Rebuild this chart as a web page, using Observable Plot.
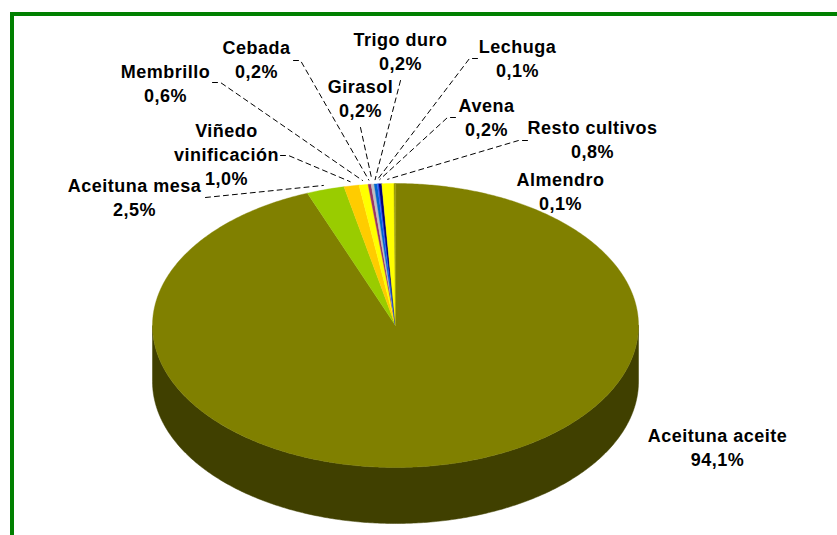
<!DOCTYPE html>
<html><head><meta charset="utf-8">
<script src="https://cdn.jsdelivr.net/npm/d3@7"></script>
<script src="https://cdn.jsdelivr.net/npm/@observablehq/plot@0.6"></script>
<style>
html,body{margin:0;padding:0;background:#fff;}
#wrap{position:relative;width:837px;height:535px;overflow:hidden;}
#frame{position:absolute;left:10px;top:12px;width:900px;height:600px;border-top:4px solid #008000;border-left:4px solid #008000;box-sizing:border-box;pointer-events:none;}
#chart svg{display:block;}
</style></head><body>
<div id="wrap"><div id="chart"></div><div id="frame"></div></div>
<script>
// ---- data ----
const categories = ["Aceituna aceite","Aceituna mesa","Viñedo vinificación","Membrillo","Cebada","Girasol","Trigo duro","Lechuga","Avena","Resto cultivos","Almendro"];
const values = [94.1, 2.5, 1.0, 0.6, 0.2, 0.2, 0.2, 0.1, 0.2, 0.8, 0.1];
const colors = ["#808000","#99CC00","#FFCC00","#FFFF00","#993366","#C0C0C0","#0066CC","#3366FF","#000080","#FFFF00","#999900"];
const nameLines = [["Aceituna aceite"],["Aceituna mesa"],["Viñedo","vinificación"],["Membrillo"],["Cebada"],["Girasol"],["Trigo duro"],["Lechuga"],["Avena"],["Resto cultivos"],["Almendro"]];
const pctLabels = values.map(v => d3.format(".1f")(v).replace(".", ",") + "%");

// ---- layout (manually placed labels, px) ----
const labelAnchors = [[717,441],[134,191],[226,136],[165,77],[256,53],[360,92],[400,45],[517,52],[486,111],[592,133],[560,185]];
const leaderStarts = [null,[[205,197]],[[280,155],[288,155]],[[212,82],[220,82]],[[293,60],[300,60]],[[360,127]],[[400,80]],[[477,58],[469,58]],[[455,117],[447,117]],[[527,140],[518,140]],null];
const W = 837, H = 535, cx = 395, cy = 325, rx = 243, ry = 142, depth = 56, lineH = 24;

const arcs = d3.pie().sort(null).value(d => d)(values);
const pt = (a, k = 1, dz = 0) => ({x: cx + rx * k * Math.sin(a), y: cy - ry * k * Math.cos(a) + dz});
const arcPts = (a0, a1, dz = 0) => {
  const n = Math.max(2, Math.ceil((a1 - a0) / 0.01));
  return d3.range(n + 1).map(i => pt(a0 + (a1 - a0) * i / n, 1, dz));
};
const darker = c => { const r = d3.rgb(c); return d3.rgb(r.r * 0.5, r.g * 0.5, r.b * 0.5).formatHex(); };

// side walls (front half only)
const sides = [];
arcs.forEach((a, i) => {
  const s = Math.max(a.startAngle, Math.PI / 2), e = Math.min(a.endAngle, 3 * Math.PI / 2);
  if (e > s) sides.push({pts: [...arcPts(s, e), ...arcPts(s, e, depth).reverse()], color: darker(colors[i])});
});
// top faces
const tops = arcs.map((a, i) => ({pts: [{x: cx, y: cy}, ...arcPts(a.startAngle, a.endAngle)], color: colors[i]}));

// labels
const texts = [];
categories.forEach((c, i) => {
  const lines = [...nameLines[i], pctLabels[i]];
  lines.forEach((t, j) => texts.push({x: labelAnchors[i][0], y: labelAnchors[i][1] + j * lineH, text: t}));
});
// leaders
const leaders = [];
arcs.forEach((a, i) => {
  if (!leaderStarts[i]) return;
  const mid = (a.startAngle + a.endAngle) / 2;
  const end = pt(mid, 1.03);
  leaders.push([...leaderStarts[i].map(([x, y]) => ({x, y})), end]);
});

const marks = [
  ...sides.map(s => Plot.line(s.pts, {x: "x", y: "y", fill: s.color, stroke: s.color, strokeWidth: 0.5, curve: "linear-closed"})),
  ...tops.map(s => Plot.line(s.pts, {x: "x", y: "y", fill: s.color, stroke: s.color, strokeWidth: 0.4, curve: "linear-closed"})),
  ...leaders.map(l => Plot.line(l, {x: "x", y: "y", stroke: "#000", strokeWidth: 1, strokeDasharray: "5,4"})),
  Plot.text(texts, {x: "x", y: "y", text: "text", fontSize: 18, fontWeight: "bold", fill: "#000", textAnchor: "middle", lineAnchor: "bottom"})
];

const chart = Plot.plot({
  width: W, height: H, margin: 0,
  x: {domain: [0, W], range: [0, W], axis: null},
  y: {domain: [0, H], range: [0, H], axis: null},
  style: {fontFamily: "'Liberation Sans', Arial, sans-serif", letterSpacing: "0.5px", background: "transparent"},
  marks
});
document.getElementById("chart").appendChild(chart);
</script>
</body></html>
